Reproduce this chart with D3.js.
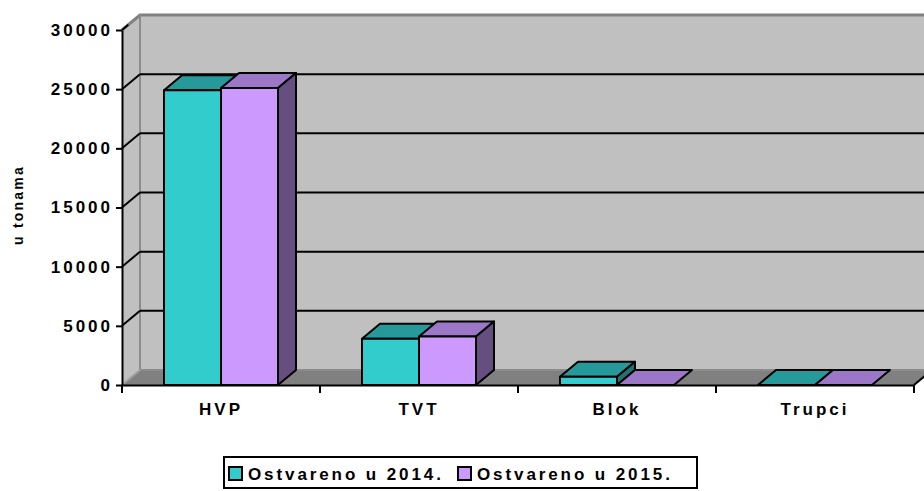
<!DOCTYPE html>
<html>
<head>
<meta charset="utf-8">
<script src="https://cdn.jsdelivr.net/npm/d3@7"></script>
<style>
  body { margin: 0; background: #fff; }
  svg { display: block; font-family: "Liberation Sans", Arial, sans-serif; font-weight: bold; }
</style>
</head>
<body>
<div id="chart"></div>
<script>
// chart data
var categories = ["HVP", "TVT", "Blok", "Trupci"];
var seriesNames = ["Ostvareno u 2014.", "Ostvareno u 2015."];
var values2014 = [24900, 3900, 700, 0];
var values2015 = [25100, 4100, 0, 0];
var yTicks = [0, 5000, 10000, 15000, 20000, 25000, 30000];
var yTitle = "u tonama";

var width = 924;
var height = 491;

// front plane of the plot + 3d depth offset
var X0 = 122, X1 = 914, Y0 = 385, Y1 = 30;
var DX = 18, DY = -15;

var faceColors = [
  {front: "#33cccc", top: "#269a9a", side: "#1f7373"},
  {front: "#cc99ff", top: "#9c77c8", side: "#664e80"}
];

var svg = d3.select("#chart").append("svg")
  .attr("width", width)
  .attr("height", height);

var y = d3.scaleLinear().domain([0, 30000]).range([Y0, Y1]);
var x = d3.scaleBand().domain(categories).range([X0, X1]);
var x1 = d3.scaleBand().domain(seriesNames).range([42, x.bandwidth() - 42]);

function pts(a) { return a.map(function(p) { return p.join(","); }).join(" "); }

// walls
svg.append("polygon")
  .attr("points", pts([[X0, Y0], [X0, Y1], [X0 + DX, Y1 + DY], [X0 + DX, Y0 + DY]]))
  .attr("fill", "#c0c0c0");
svg.append("polygon")
  .attr("points", pts([[X0 + DX, Y1 + DY], [width + 20, Y1 + DY], [width + 20, Y0 + DY], [X0 + DX, Y0 + DY]]))
  .attr("fill", "#c0c0c0");
// floor
svg.append("polygon")
  .attr("points", pts([[X0, Y0], [X1, Y0], [X1 + DX, Y0 + DY], [X0 + DX, Y0 + DY]]))
  .attr("fill", "#808080");

// wall borders
svg.append("path")
  .attr("d", "M" + X0 + "," + Y1 + "L" + (X0 + DX) + "," + (Y1 + DY) + "L" + (width + 20) + "," + (Y1 + DY))
  .attr("fill", "none").attr("stroke", "#808080").attr("stroke-width", 3);
svg.append("path")
  .attr("d", "M" + (X0 + DX) + "," + (Y1 + DY) + "L" + (X0 + DX) + "," + (Y0 + DY) + "L" + (width + 20) + "," + (Y0 + DY))
  .attr("fill", "none").attr("stroke", "#8c8c8c").attr("stroke-width", 2);
svg.append("line")
  .attr("x1", X0).attr("y1", Y0).attr("x2", X0 + DX).attr("y2", Y0 + DY)
  .attr("stroke", "#a0a0a0").attr("stroke-width", 2);

// gridlines on back + side wall
var grid = svg.append("g").attr("stroke", "#000").attr("stroke-width", 2);
yTicks.filter(function(t) { return t > 0 && t < 30000; }).forEach(function(t) {
  grid.append("line")
    .attr("x1", X0 + DX).attr("y1", y(t) + DY)
    .attr("x2", width + 20).attr("y2", y(t) + DY);
  grid.append("line")
    .attr("x1", X0).attr("y1", y(t))
    .attr("x2", X0 + DX).attr("y2", y(t) + DY);
});
grid.append("line")
  .attr("x1", X0).attr("y1", y(30000))
  .attr("x2", X0 + DX * 0.35).attr("y2", y(30000) + DY * 0.35);

// bars
var rows = categories.map(function(c, i) {
  return [
    {cat: c, s: 0, name: seriesNames[0], v: values2014[i]},
    {cat: c, s: 1, name: seriesNames[1], v: values2015[i]}
  ];
});

var bar = svg.append("g").selectAll("g.cat")
  .data(rows).enter().append("g").attr("class", "cat")
  .selectAll("g.bar")
  .data(function(d) { return d; }).enter().append("g").attr("class", "bar")
  .attr("stroke", "#000").attr("stroke-width", 2).attr("stroke-linejoin", "round");

bar.each(function(d) {
  var g = d3.select(this);
  var bx = x(d.cat) + x1(d.name);
  var bw = x1.bandwidth();
  var yt = y(d.v);
  var col = faceColors[d.s];
  g.append("polygon")
    .attr("points", pts([[bx, yt], [bx + bw, yt], [bx + bw + DX, yt + DY], [bx + DX, yt + DY]]))
    .attr("fill", col.top);
  if (d.v > 0) {
    g.append("polygon")
      .attr("points", pts([[bx + bw, yt], [bx + bw + DX, yt + DY], [bx + bw + DX, Y0 + DY], [bx + bw, Y0]]))
      .attr("fill", col.side);
    g.append("rect")
      .attr("x", bx).attr("y", yt)
      .attr("width", bw).attr("height", Y0 - yt)
      .attr("fill", col.front);
  }
});

// y axis
var yAxis = svg.append("g")
  .attr("transform", "translate(" + X0 + ",0)")
  .call(d3.axisLeft(y).tickValues(yTicks).tickFormat(d3.format("d")).tickSize(6).tickSizeOuter(0).tickPadding(3));
yAxis.select(".domain").attr("stroke-width", 2);
yAxis.selectAll(".tick line").attr("stroke-width", 2);
yAxis.selectAll(".tick text")
  .attr("font-size", 17).attr("font-weight", "bold")
  .attr("font-family", "'Liberation Sans', Arial, sans-serif")
  .style("letter-spacing", "3px")
  .attr("fill", "#000");

// x axis
var xAxis = svg.append("g")
  .attr("transform", "translate(0," + Y0 + ")")
  .call(d3.axisBottom(x).tickSize(0).tickPadding(18).tickSizeOuter(0));
xAxis.select(".domain").attr("stroke-width", 2);
xAxis.selectAll(".tick text")
  .attr("font-size", 17).attr("font-weight", "bold")
  .attr("font-family", "'Liberation Sans', Arial, sans-serif")
  .style("letter-spacing", "3px")
  .attr("fill", "#000");
var bounds = categories.map(function(c) { return x(c); }).concat([X1]);
xAxis.selectAll("line.bound")
  .data(bounds).enter().append("line").attr("class", "bound")
  .attr("x1", function(d) { return d; }).attr("x2", function(d) { return d; })
  .attr("y1", 0).attr("y2", 8)
  .attr("stroke", "#000").attr("stroke-width", 2);
xAxis.append("line")
  .attr("x1", X1).attr("y1", 0).attr("x2", X1 + DX).attr("y2", DY)
  .attr("stroke", "#000").attr("stroke-width", 2);

// y title
svg.append("text")
  .attr("transform", "translate(23,205) rotate(-90)")
  .attr("text-anchor", "middle")
  .attr("font-size", 14)
  .style("letter-spacing", "2.2px")
  .text(yTitle);

// legend
var legend = svg.append("g");
legend.append("rect")
  .attr("x", 224).attr("y", 457).attr("width", 473).attr("height", 31)
  .attr("fill", "#fff").attr("stroke", "#000").attr("stroke-width", 2);
var legX = [229, 458];
var item = legend.selectAll("g.item")
  .data(seriesNames).enter().append("g").attr("class", "item")
  .attr("transform", function(d, i) { return "translate(" + legX[i] + ",0)"; });
item.append("rect")
  .attr("x", 0).attr("y", 467).attr("width", 13).attr("height", 13)
  .attr("fill", function(d, i) { return faceColors[i].front; })
  .attr("stroke", "#000").attr("stroke-width", 2);
item.append("text")
  .attr("x", 19).attr("y", 480)
  .attr("font-size", 17)
  .style("letter-spacing", "2.9px")
  .text(function(d) { return d; });
</script>
</body>
</html>
